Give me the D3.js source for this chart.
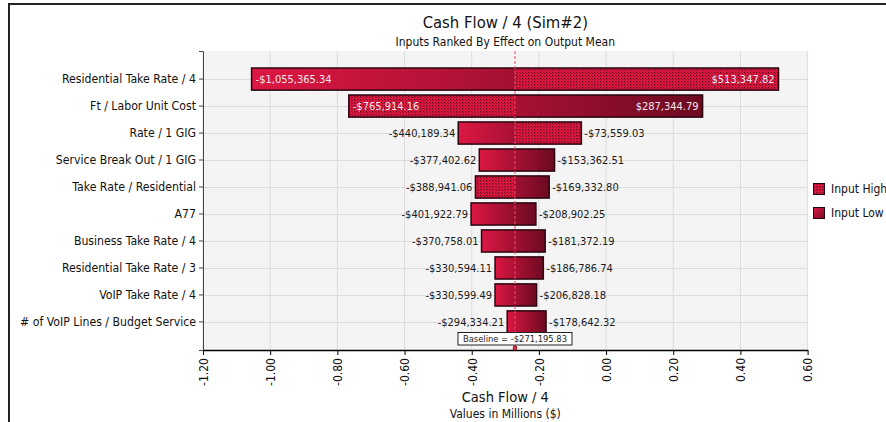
<!DOCTYPE html>
<html>
<head>
<meta charset="utf-8">
<script src="https://cdn.jsdelivr.net/npm/d3@7"></script>
<style>
  html, body { margin: 0; padding: 0; background: #fff; }
  svg { display: block; font-family: "DejaVu Sans Condensed", "DejaVu Sans", sans-serif; }
</style>
</head>
<body>
<svg id="chart" width="886" height="422"></svg>
<script>
// ---------------- DATA ----------------
const categories = [
  "Residential Take Rate / 4",
  "Ft / Labor Unit Cost",
  "Rate / 1 GIG",
  "Service Break Out / 1 GIG",
  "Take Rate / Residential",
  "A77",
  "Business Take Rate / 4",
  "Residential Take Rate / 3",
  "VoIP Take Rate / 4",
  "# of VoIP Lines / Budget Service"
];
const leftValues = [-1055365.34, -765914.16, -440189.34, -377402.62, -388941.06, -401922.79, -370758.01, -330594.11, -330599.49, -294334.21];
const rightValues = [513347.82, 287344.79, -73559.03, -153362.51, -169332.80, -208902.25, -181372.19, -186786.74, -206828.18, -178642.32];
// which side of each bar belongs to "Input High" (pattern); "none" = drawn plain
const highSide = ["right", "left", "right", "none", "left", "none", "none", "none", "none", "none"];
const baselineValue = -271195.83;
const xTicks = [-1.2, -1.0, -0.8, -0.6, -0.4, -0.2, 0.0, 0.2, 0.4, 0.6];
const legendLabels = ["Input High", "Input Low"];
const titleText = "Cash Flow / 4 (Sim#2)";
const subtitleText = "Inputs Ranked By Effect on Output Mean";
const xTitleText = "Cash Flow / 4";
const xSubtitleText = "Values in Millions ($)";

// ---------------- SETUP ----------------
const svg = d3.select("#chart");
const loc = d3.formatLocale({decimal: ".", thousands: ",", grouping: [3], currency: ["$", ""], minus: "-"});
const fmtTick = loc.format(".2f");
const fmtMoney = v => (v < 0 ? "-" : "") + "$" + loc.format(",.2f")(Math.abs(v));

const plot = {left: 203, right: 807.6, top: 51, bottom: 350};
const x = d3.scaleLinear().domain([-1.2, 0.6]).range([plot.left, plot.right]);
const y = d3.scaleBand().domain(categories).range([plot.top, plot.bottom]).paddingInner(0.18).paddingOuter(0.63);

const rows = categories.map((c, i) => ({
  cat: c, lo: leftValues[i] / 1e6, hi: rightValues[i] / 1e6,
  loRaw: leftValues[i], hiRaw: rightValues[i], high: highSide[i]
}));
const base = baselineValue / 1e6;

// defs
const defs = svg.append("defs");
const grad = defs.append("linearGradient").attr("id", "lowGrad")
  .attr("x1", 0).attr("y1", 0).attr("x2", 1).attr("y2", 0);
grad.append("stop").attr("offset", 0).attr("stop-color", "#dc1743");
grad.append("stop").attr("offset", 1).attr("stop-color", "#6c0a21");
const grad2 = defs.append("linearGradient").attr("id", "legGrad")
  .attr("x1", 0).attr("y1", 0).attr("x2", 1).attr("y2", 1);
grad2.append("stop").attr("offset", 0).attr("stop-color", "#dc1743");
grad2.append("stop").attr("offset", 1).attr("stop-color", "#7a0c25");
const pat = defs.append("pattern").attr("id", "highPat").attr("patternUnits", "userSpaceOnUse")
  .attr("width", 3).attr("height", 3);
pat.append("rect").attr("width", 3).attr("height", 3).attr("fill", "#d8163f");
pat.append("rect").attr("x", 0).attr("y", 0).attr("width", 1).attr("height", 1).attr("fill", "#52061a");
pat.append("rect").attr("x", 1).attr("y", 1).attr("width", 1).attr("height", 1).attr("fill", "#8e0c2a");

// outer frame
svg.append("rect").attr("x", 9).attr("y", 4).attr("width", 900).attr("height", 440)
  .attr("fill", "none").attr("stroke", "#222").attr("stroke-width", 2);

// plot background
svg.append("rect").attr("x", plot.left).attr("y", plot.top)
  .attr("width", plot.right - plot.left).attr("height", plot.bottom - plot.top)
  .attr("fill", "#f4f4f4");

// gridlines
svg.append("g").selectAll("line.v").data(xTicks).join("line")
  .attr("x1", d => x(d)).attr("x2", d => x(d))
  .attr("y1", plot.top).attr("y2", plot.bottom)
  .attr("stroke", "#dcdcdc").attr("stroke-width", 1);
svg.append("g").selectAll("line.h").data(categories).join("line")
  .attr("x1", plot.left).attr("x2", plot.right)
  .attr("y1", d => Math.round(y(d) + y.bandwidth() / 2) + 0.5)
  .attr("y2", d => Math.round(y(d) + y.bandwidth() / 2) + 0.5)
  .attr("stroke", "#dcdcdc").attr("stroke-width", 1);

// bars
const bars = svg.append("g");
rows.forEach(r => {
  const x0 = x(Math.min(r.lo, r.hi)), x1 = x(Math.max(r.lo, r.hi));
  const yt = y(r.cat), h = y.bandwidth();
  bars.append("rect").attr("x", x0).attr("y", yt).attr("width", x1 - x0).attr("height", h)
    .attr("fill", "url(#lowGrad)");
  if (r.high === "right") {
    bars.append("rect").attr("x", x(base)).attr("y", yt).attr("width", x1 - x(base)).attr("height", h)
      .attr("fill", "url(#highPat)");
  } else if (r.high === "left") {
    bars.append("rect").attr("x", x0).attr("y", yt).attr("width", x(base) - x0).attr("height", h)
      .attr("fill", "url(#highPat)");
  }
  bars.append("rect").attr("x", x0).attr("y", yt).attr("width", x1 - x0).attr("height", h)
    .attr("fill", "none").attr("stroke", "#2a0610").attr("stroke-width", 1.5);
});

// baseline dashed line
svg.append("line").attr("x1", x(base)).attr("x2", x(base))
  .attr("y1", plot.top).attr("y2", plot.bottom)
  .attr("stroke", "#ee4a6c").attr("stroke-width", 1).attr("stroke-dasharray", "3,2");

// value labels
const labG = svg.append("g").attr("font-size", "11px");
rows.forEach(r => {
  const cy = y(r.cat) + y.bandwidth() / 2;
  const xl = x(r.lo), xr = x(r.hi), xb = x(base);
  const lt = fmtMoney(r.loRaw), rt = fmtMoney(r.hiRaw);
  const tl = labG.append("text").attr("y", cy).attr("dy", "0.36em").text(lt);
  const wl = tl.node().getComputedTextLength();
  if (xb - xl > wl + 20) {
    tl.attr("x", xl + 4).attr("text-anchor", "start").attr("fill", "#f6e6ea");
  } else {
    tl.attr("x", xl - 3).attr("text-anchor", "end").attr("fill", "#1a1a1a");
  }
  const tr = labG.append("text").attr("y", cy).attr("dy", "0.36em").text(rt);
  const wr = tr.node().getComputedTextLength();
  if (xr - xb > wr + 20) {
    tr.attr("x", xr - 4).attr("text-anchor", "end").attr("fill", "#f6e6ea");
  } else {
    tr.attr("x", xr + 3).attr("text-anchor", "start").attr("fill", "#1a1a1a");
  }
});

// y axis
const yAxis = svg.append("g").attr("transform", `translate(${plot.left},0)`)
  .call(d3.axisLeft(y).tickSize(4).tickSizeOuter(4).tickPadding(3));
yAxis.select(".domain").attr("stroke", "#444");
yAxis.selectAll(".tick line").attr("stroke", "#444");
yAxis.selectAll("text").attr("font-size", "12.2px").attr("fill", "#111")
  .attr("font-family", "DejaVu Sans Condensed, DejaVu Sans, sans-serif");

// x axis
const xAxis = svg.append("g").attr("transform", `translate(0,${plot.bottom})`)
  .call(d3.axisBottom(x).tickValues(xTicks).tickFormat(fmtTick).tickSize(5).tickSizeOuter(0));
xAxis.select(".domain").attr("stroke", "#000").attr("stroke-width", 1.6);
xAxis.selectAll(".tick line").attr("stroke", "#000");
xAxis.selectAll("text")
  .attr("font-size", "12px").attr("fill", "#111")
  .attr("font-family", "DejaVu Sans Condensed, DejaVu Sans, sans-serif")
  .attr("text-anchor", "end")
  .attr("transform", "rotate(-90)")
  .attr("x", -8).attr("y", 0).attr("dy", "0.36em");

// baseline label + marker
const bx = x(base);
svg.append("rect").attr("x", bx - 57).attr("y", 332.5).attr("width", 114).attr("height", 12.5)
  .attr("fill", "#fff").attr("stroke", "#222").attr("stroke-width", 1);
svg.append("text").attr("x", bx).attr("y", 339).attr("dy", "0.35em")
  .attr("text-anchor", "middle").attr("font-size", "9.3px").attr("fill", "#222")
  .text("Baseline = " + fmtMoney(baselineValue));
svg.append("ellipse").attr("cx", bx).attr("cy", 348).attr("rx", 1.8).attr("ry", 2.4)
  .attr("fill", "#e8304f").attr("stroke", "#600").attr("stroke-width", 0.8);

// titles
const cx = (plot.left + plot.right) / 2;
svg.append("text").attr("x", cx).attr("y", 28).attr("text-anchor", "middle")
  .attr("font-size", "16.5px").attr("fill", "#111").text(titleText);
svg.append("text").attr("x", cx).attr("y", 46).attr("text-anchor", "middle")
  .attr("font-size", "12px").attr("fill", "#111").text(subtitleText);
svg.append("text").attr("x", cx).attr("y", 402).attr("text-anchor", "middle")
  .attr("font-size", "14.5px").attr("fill", "#111").text(xTitleText);
svg.append("text").attr("x", cx).attr("y", 418).attr("text-anchor", "middle")
  .attr("font-size", "12px").attr("fill", "#111").text(xSubtitleText);

// legend
const leg = svg.append("g").attr("transform", "translate(813,183)");
legendLabels.forEach((l, i) => {
  const g = leg.append("g").attr("transform", `translate(0,${i * 24})`);
  g.append("rect").attr("x", 0.5).attr("y", 0.5).attr("width", 11).attr("height", 11)
    .attr("fill", i === 0 ? "url(#highPat)" : "url(#legGrad)")
    .attr("stroke", "#2a0610").attr("stroke-width", 1);
  g.append("text").attr("x", 18).attr("y", 6).attr("dy", "0.36em")
    .attr("font-size", "12px").attr("fill", "#111").text(l);
});
</script>
</body>
</html>
